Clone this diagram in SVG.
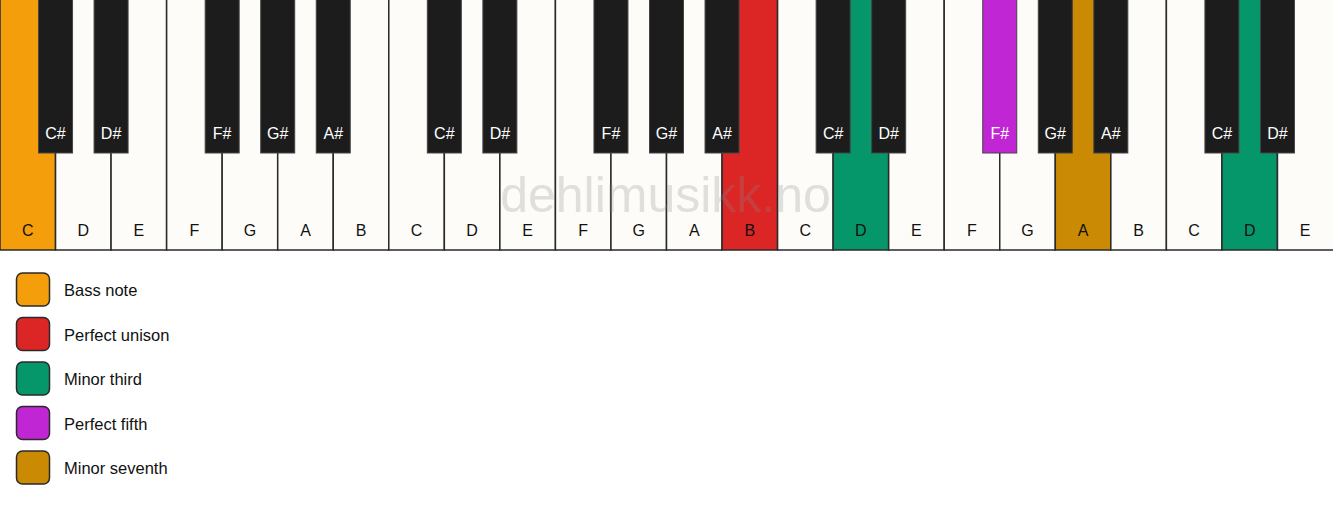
<svg xmlns="http://www.w3.org/2000/svg" width="1333" height="506" viewBox="0 0 1333 506">
<style>
.w{fill:#fdfcf9;stroke:#2a2a2a;stroke-width:1.5}
.b{fill:#1c1c1c;stroke:#444;stroke-width:1}
.wl{font-family:"Liberation Sans",Arial,sans-serif;font-size:16px;fill:#111;text-anchor:middle}
.bl{font-family:"Liberation Sans",Arial,sans-serif;font-size:16px;fill:#fff;text-anchor:middle}
.lg{font-family:"Liberation Sans",Arial,sans-serif;font-size:16.5px;fill:#111}
.sw{stroke:#2a2a2a;stroke-width:1.5}
</style>
<rect width="1333" height="506" fill="#ffffff"/>
<g id="white-keys">
<g id="w0"><rect class="w" x="0" y="-2" width="55.54" height="252" style="fill:#f59e0b"/><text class="wl" x="27.8" y="236">C</text></g>
<g id="w1"><rect class="w" x="55.54" y="-2" width="55.54" height="252"/><text class="wl" x="83.3" y="236">D</text></g>
<g id="w2"><rect class="w" x="111.08" y="-2" width="55.54" height="252"/><text class="wl" x="138.9" y="236">E</text></g>
<g id="w3"><rect class="w" x="166.63" y="-2" width="55.54" height="252"/><text class="wl" x="194.4" y="236">F</text></g>
<g id="w4"><rect class="w" x="222.17" y="-2" width="55.54" height="252"/><text class="wl" x="249.9" y="236">G</text></g>
<g id="w5"><rect class="w" x="277.71" y="-2" width="55.54" height="252"/><text class="wl" x="305.5" y="236">A</text></g>
<g id="w6"><rect class="w" x="333.25" y="-2" width="55.54" height="252"/><text class="wl" x="361.0" y="236">B</text></g>
<g id="w7"><rect class="w" x="388.79" y="-2" width="55.54" height="252"/><text class="wl" x="416.6" y="236">C</text></g>
<g id="w8"><rect class="w" x="444.33" y="-2" width="55.54" height="252"/><text class="wl" x="472.1" y="236">D</text></g>
<g id="w9"><rect class="w" x="499.88" y="-2" width="55.54" height="252"/><text class="wl" x="527.6" y="236">E</text></g>
<g id="w10"><rect class="w" x="555.42" y="-2" width="55.54" height="252"/><text class="wl" x="583.2" y="236">F</text></g>
<g id="w11"><rect class="w" x="610.96" y="-2" width="55.54" height="252"/><text class="wl" x="638.7" y="236">G</text></g>
<g id="w12"><rect class="w" x="666.5" y="-2" width="55.54" height="252"/><text class="wl" x="694.3" y="236">A</text></g>
<g id="w13"><rect class="w" x="722.04" y="-2" width="55.54" height="252" style="fill:#dc2626"/><text class="wl" x="749.8" y="236">B</text></g>
<g id="w14"><rect class="w" x="777.58" y="-2" width="55.54" height="252"/><text class="wl" x="805.4" y="236">C</text></g>
<g id="w15"><rect class="w" x="833.13" y="-2" width="55.54" height="252" style="fill:#059669"/><text class="wl" x="860.9" y="236">D</text></g>
<g id="w16"><rect class="w" x="888.67" y="-2" width="55.54" height="252"/><text class="wl" x="916.4" y="236">E</text></g>
<g id="w17"><rect class="w" x="944.21" y="-2" width="55.54" height="252"/><text class="wl" x="972.0" y="236">F</text></g>
<g id="w18"><rect class="w" x="999.75" y="-2" width="55.54" height="252"/><text class="wl" x="1027.5" y="236">G</text></g>
<g id="w19"><rect class="w" x="1055.29" y="-2" width="55.54" height="252" style="fill:#ca8a04"/><text class="wl" x="1083.1" y="236">A</text></g>
<g id="w20"><rect class="w" x="1110.83" y="-2" width="55.54" height="252"/><text class="wl" x="1138.6" y="236">B</text></g>
<g id="w21"><rect class="w" x="1166.38" y="-2" width="55.54" height="252"/><text class="wl" x="1194.1" y="236">C</text></g>
<g id="w22"><rect class="w" x="1221.92" y="-2" width="55.54" height="252" style="fill:#059669"/><text class="wl" x="1249.7" y="236">D</text></g>
<g id="w23"><rect class="w" x="1277.46" y="-2" width="56.5" height="252"/><text class="wl" x="1305.2" y="236">E</text></g>
</g>
<text id="watermark" x="665.5" y="212" font-family="'Liberation Sans',Arial,sans-serif" font-size="50" text-anchor="middle" fill="#888" fill-opacity="0.25">dehlimusikk.no</text>
<g id="black-keys">
<g id="b1"><rect class="b" x="38.54" y="-2" width="34" height="155"/><text class="bl" x="55.54" y="139">C#</text></g>
<g id="b2"><rect class="b" x="94.08" y="-2" width="34" height="155"/><text class="bl" x="111.08" y="139">D#</text></g>
<g id="b4"><rect class="b" x="205.17" y="-2" width="34" height="155"/><text class="bl" x="222.17" y="139">F#</text></g>
<g id="b5"><rect class="b" x="260.71" y="-2" width="34" height="155"/><text class="bl" x="277.71" y="139">G#</text></g>
<g id="b6"><rect class="b" x="316.25" y="-2" width="34" height="155"/><text class="bl" x="333.25" y="139">A#</text></g>
<g id="b8"><rect class="b" x="427.33" y="-2" width="34" height="155"/><text class="bl" x="444.33" y="139">C#</text></g>
<g id="b9"><rect class="b" x="482.88" y="-2" width="34" height="155"/><text class="bl" x="499.88" y="139">D#</text></g>
<g id="b11"><rect class="b" x="593.96" y="-2" width="34" height="155"/><text class="bl" x="610.96" y="139">F#</text></g>
<g id="b12"><rect class="b" x="649.5" y="-2" width="34" height="155"/><text class="bl" x="666.5" y="139">G#</text></g>
<g id="b13"><rect class="b" x="705.04" y="-2" width="34" height="155"/><text class="bl" x="722.04" y="139">A#</text></g>
<g id="b15"><rect class="b" x="816.13" y="-2" width="34" height="155"/><text class="bl" x="833.13" y="139">C#</text></g>
<g id="b16"><rect class="b" x="871.67" y="-2" width="34" height="155"/><text class="bl" x="888.67" y="139">D#</text></g>
<g id="b18"><rect class="b" x="982.75" y="-2" width="34" height="155" style="fill:#c026d3"/><text class="bl" x="999.75" y="139">F#</text></g>
<g id="b19"><rect class="b" x="1038.29" y="-2" width="34" height="155"/><text class="bl" x="1055.29" y="139">G#</text></g>
<g id="b20"><rect class="b" x="1093.83" y="-2" width="34" height="155"/><text class="bl" x="1110.83" y="139">A#</text></g>
<g id="b22"><rect class="b" x="1204.92" y="-2" width="34" height="155"/><text class="bl" x="1221.92" y="139">C#</text></g>
<g id="b23"><rect class="b" x="1260.46" y="-2" width="34" height="155"/><text class="bl" x="1277.46" y="139">D#</text></g>
</g>
<g id="legend">
<g id="lg-bass"><rect class="sw" x="16.5" y="273" width="33" height="33" rx="6" fill="#f59e0b"/><text class="lg" x="64" y="296">Bass note</text></g>
<g id="lg-unison"><rect class="sw" x="16.5" y="317.5" width="33" height="33" rx="6" fill="#dc2626"/><text class="lg" x="64" y="340.5">Perfect unison</text></g>
<g id="lg-third"><rect class="sw" x="16.5" y="362" width="33" height="33" rx="6" fill="#059669"/><text class="lg" x="64" y="385">Minor third</text></g>
<g id="lg-fifth"><rect class="sw" x="16.5" y="406.5" width="33" height="33" rx="6" fill="#c026d3"/><text class="lg" x="64" y="429.5">Perfect fifth</text></g>
<g id="lg-seventh"><rect class="sw" x="16.5" y="451" width="33" height="33" rx="6" fill="#ca8a04"/><text class="lg" x="64" y="474">Minor seventh</text></g>
</g>
</svg>
